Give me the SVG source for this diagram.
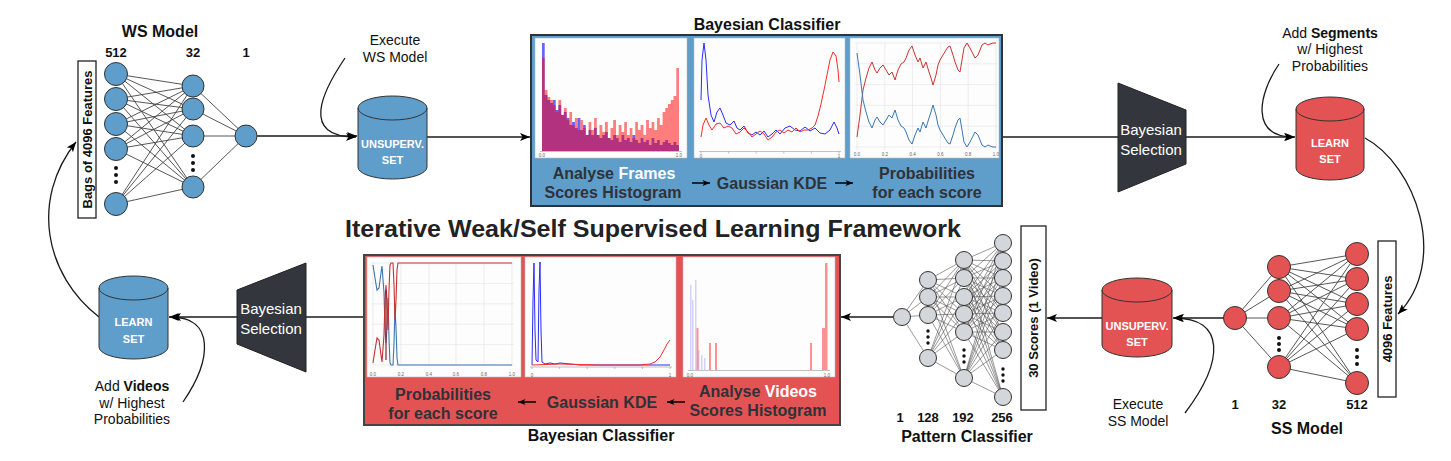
<svg xmlns="http://www.w3.org/2000/svg" width="1451" height="461" viewBox="0 0 1451 461">
<style>
text{font-family:"Liberation Sans",Arial,sans-serif;}
.b{font-weight:bold;}
.lbl{font-size:14px;fill:#111;}
.ttl{font-size:16px;font-weight:bold;fill:#111;}
.num{font-size:13px;font-weight:bold;fill:#111;}
.cyl{font-size:11px;font-weight:bold;fill:#fff;}
.sel{font-size:15px;fill:#fff;}
.pt{font-size:16px;font-weight:bold;fill:#2f3238;}
.tick{font-size:4.5px;fill:#666;}
.conn{stroke:#1a1a1a;stroke-width:1.3;fill:none;}
.syn{stroke:#444;stroke-width:0.9;fill:none;}
.syn2{stroke:#555;stroke-width:0.6;fill:none;}
.nb{fill:#5f9dca;stroke:#333;stroke-width:1;}
.nr{fill:#e45353;stroke:#333;stroke-width:1;}
.ng{fill:#d3d6db;stroke:#333;stroke-width:1;}
.chart{fill:#fdfdfd;stroke:#bbb;stroke-width:0.6;}
.grid{stroke:#e2e2e2;stroke-width:0.6;fill:none;}
.axis{stroke:#999;stroke-width:0.6;fill:none;}
.box{fill:#fff;stroke:#222;stroke-width:1.3;}
</style>
<defs>
<marker id="arr" viewBox="0 0 10 8" refX="10" refY="4" markerWidth="10" markerHeight="8" markerUnits="userSpaceOnUse" orient="auto"><path d="M0,0 L10,4 L0,8 L2.5,4 Z" fill="#000"/></marker>
<marker id="arrS" viewBox="0 0 10 8" refX="10" refY="4" markerWidth="8" markerHeight="6" markerUnits="userSpaceOnUse" orient="auto"><path d="M0,0 L10,4 L0,8 L2.5,4 Z" fill="#000"/></marker>
</defs>
<rect width="1451" height="461" fill="#fff"/>

<text x="653" y="237" class="b" font-size="23" fill="#222" text-anchor="middle" textLength="616" lengthAdjust="spacingAndGlyphs">Iterative Weak/Self Supervised Learning Framework</text>

<g id="connectors">
<line class="conn" x1="257" y1="136" x2="357" y2="136" marker-end="url(#arr)"/>
<line class="conn" x1="427" y1="137" x2="530" y2="137" marker-end="url(#arr)"/>
<line class="conn" x1="1002" y1="137" x2="1118" y2="137"/>
<line class="conn" x1="1186" y1="137" x2="1295" y2="137" marker-end="url(#arr)"/>
<path class="conn" d="M345,58 C322,92 300,137 356,137" marker-end="url(#arr)"/>
<path class="conn" d="M1279,64 C1258,95 1250,137 1294,137" marker-end="url(#arr)"/>
<path class="conn" d="M1365,138 C1415,165 1450,260 1398,314" marker-end="url(#arr)"/>
<line class="conn" x1="1224" y1="318" x2="1173" y2="318" marker-end="url(#arr)"/>
<path class="conn" d="M1185,413 C1225,360 1225,318 1174,318" marker-end="url(#arr)"/>
<line class="conn" x1="1102" y1="318" x2="1047" y2="318" marker-end="url(#arr)"/>
<line class="conn" x1="893" y1="317" x2="841" y2="317" marker-end="url(#arr)"/>
<line class="conn" x1="364" y1="317" x2="306" y2="317"/>
<line class="conn" x1="237" y1="317" x2="169" y2="317" marker-end="url(#arr)"/>
<path class="conn" d="M183,402 C212,360 215,317 171,317" marker-end="url(#arr)"/>
<path class="conn" d="M99,317 C45,275 30,200 76,142" marker-end="url(#arr)"/>
</g>

<g id="ws-model">
<text x="160" y="37" class="ttl" text-anchor="middle">WS Model</text>
<text x="116" y="57" class="num" text-anchor="middle">512</text>
<text x="193" y="57" class="num" text-anchor="middle">32</text>
<text x="246" y="57" class="num" text-anchor="middle">1</text>
<path class="syn" d="M116 74L193 86M116 74L193 109M116 74L193 136M116 74L193 187M116 99L193 86M116 99L193 109M116 99L193 136M116 99L193 187M116 124L193 86M116 124L193 109M116 124L193 136M116 124L193 187M116 149L193 86M116 149L193 109M116 149L193 136M116 149L193 187M116 204L193 86M116 204L193 109M116 204L193 136M116 204L193 187M193 86L246 136M193 109L246 136M193 136L246 136M193 187L246 136"/>
<circle class="nb" cx="116" cy="74" r="11.5"/>
<circle class="nb" cx="116" cy="99" r="11.5"/>
<circle class="nb" cx="116" cy="124" r="11.5"/>
<circle class="nb" cx="116" cy="149" r="11.5"/>
<circle class="nb" cx="116" cy="204" r="11.5"/>
<circle cx="116" cy="168" r="2" fill="#111"/><circle cx="116" cy="175" r="2" fill="#111"/><circle cx="116" cy="182" r="2" fill="#111"/>
<circle class="nb" cx="193" cy="86" r="11"/>
<circle class="nb" cx="193" cy="109" r="11"/>
<circle class="nb" cx="193" cy="136" r="11"/>
<circle class="nb" cx="193" cy="187" r="11"/>
<circle cx="193" cy="156" r="2" fill="#111"/><circle cx="193" cy="163" r="2" fill="#111"/><circle cx="193" cy="170" r="2" fill="#111"/>
<circle class="nb" cx="246" cy="136" r="11"/>
</g>

<g id="bags-features">
<rect class="box" x="78" y="61" width="18" height="157"/>
<text class="num" transform="translate(92,139.5) rotate(-90)" text-anchor="middle">Bags of 4096 Features</text>
</g>

<g id="execute-ws">
<text x="395" y="45" class="lbl" text-anchor="middle">Execute</text>
<text x="395" y="62" class="lbl" text-anchor="middle">WS Model</text>
</g>

<g id="unsuperv-set-top">
<path class="nb" d="M358,108 A34.5,12 0 0 1 427,108 V167 A34.5,12 0 0 1 358,167 Z"/>
<path d="M358,108 A34.5,12 0 0 0 427,108" fill="none" stroke="#333" stroke-width="1"/>
<text x="392.5" y="148" class="cyl" text-anchor="middle">UNSUPERV.</text>
<text x="392.5" y="164" class="cyl" text-anchor="middle">SET</text>
</g>

<g id="bayesian-classifier-top">
<text x="767" y="30" class="ttl" text-anchor="middle">Bayesian Classifier</text>
<rect x="531" y="35" width="471" height="171" fill="#5f9dca" stroke="#2f3338" stroke-width="2"/>
<rect class="chart" x="535" y="38" width="152" height="120"/>
<path d="M542,151 V43 H544.7 V95 H547.5 V100 H550.2 V103 H553 V100 H555.7 V110 H558.4 V105 H561.2 V115 H563.9 V112 H566.7 V118 H569.4 V125 H572.1 V122 H574.9 V128 H577.6 V118 H580.4 V130 H583.1 V125 H585.8 V135 H588.6 V130 H591.3 V135 H594.1 V128 H596.8 V135 H599.5 V138 H602.3 V135 H605 V132 H607.8 V138 H610.5 V140 H613.2 V135 H616 V138 H618.7 V142 H621.5 V135 H624.2 V140 H626.9 V138 H629.7 V142 H632.4 V135 H635.2 V140 H637.9 V143 H640.6 V138 H643.4 V142 H646.1 V140 H648.9 V145 H651.6 V138 H654.3 V143 H657.1 V140 H659.8 V145 H662.6 V142 H665.3 V140 H668 V143 H670.8 V145 H673.5 V142 H676.3 V145 H679 V151 Z" fill="#0000ff" fill-opacity="0.6"/>
<path d="M542,151 V58 H544.7 V90 H547.5 V97 H550.2 V100 H553 V105 H555.7 V112 H558.4 V100 H561.2 V115 H563.9 V108 H566.7 V120 H569.4 V112 H572.1 V125 H574.9 V118 H577.6 V130 H580.4 V120 H583.1 V128 H585.8 V135 H588.6 V122 H591.3 V130 H594.1 V118 H596.8 V135 H599.5 V125 H602.3 V132 H605 V122 H607.8 V138 H610.5 V128 H613.2 V120 H616 V135 H618.7 V125 H621.5 V132 H624.2 V122 H626.9 V135 H629.7 V128 H632.4 V138 H635.2 V122 H637.9 V130 H640.6 V125 H643.4 V135 H646.1 V120 H648.9 V128 H651.6 V122 H654.3 V130 H657.1 V118 H659.8 V125 H662.6 V112 H665.3 V108 H668 V104 H670.8 V100 H673.5 V96 H676.3 V68 H679 V151 Z" fill="#ff0000" fill-opacity="0.5"/>
<line class="axis" x1="540" y1="151.5" x2="682" y2="151.5"/>
<text x="542" y="157" class="tick" text-anchor="middle">0.0</text>
<text x="679" y="157" class="tick" text-anchor="middle">1.0</text>

<rect class="chart" x="694" y="38" width="151" height="120"/>
<line class="axis" x1="699" y1="151.5" x2="841" y2="151.5"/>
<path class="axis" d="M701,151.5v2M728.6,151.5v2M756.2,151.5v2M783.8,151.5v2M811.4,151.5v2M839,151.5v2"/>
<polyline fill="none" stroke="#2a2aff" stroke-width="1" points="701,100 702,60 704,43 706,60 708,95 711,115 714,122 717,112 720,108 723,115 726,123 730,125 734,121 737,128 740,130 744,126 748,133 752,135 756,132 760,135 764,131 768,137 772,134 776,130 780,134 785,128 790,126 795,130 800,131 805,127 810,131 815,128 820,133 825,134 830,130 834,122 837,128 839,134"/>
<polyline fill="none" stroke="#ff2a2a" stroke-width="1" points="701,137 703,125 706,118 709,125 712,130 716,124 720,123 724,128 728,126 732,128 736,134 740,132 744,128 748,132 752,137 756,134 760,131 764,134 768,140 772,137 776,132 780,130 784,133 788,130 792,132 796,128 800,132 804,130 808,130 812,128 815,125 818,116 821,104 824,90 827,75 830,60 833,52 836,56 838,70 839,82"/>
<text x="701" y="158" class="tick" text-anchor="middle">0</text>
<text x="839" y="158" class="tick" text-anchor="middle">1</text>

<rect class="chart" x="850" y="38" width="149" height="120"/>
<path class="grid" d="M857,43V150M884.8,43V150M912.6,43V150M940.4,43V150M968.2,43V150M996,43V150M855,43H998M855,63.8H998M855,84.6H998M855,105.4H998M855,126.2H998M855,147H998"/>
<polyline fill="none" stroke="#cc3333" stroke-width="1" points="857,137 860,115 863,90 866,78 869,68 872,62 875,70 877,73 880,68 883,65 886,70 889,75 892,72 895,80 898,70 901,64 904,62 906,58 909,50 912,46 915,55 918,62 920,58 923,68 926,62 929,72 931,78 933,85 936,75 938,65 940,60 943,55 946,50 948,47 950,46 953,55 955,62 958,70 960,72 962,60 964,48 967,43 970,48 972,52 975,58 978,55 980,50 982,45 985,43 988,45 990,44 993,43 996,43"/>
<polyline fill="none" stroke="#3b76b0" stroke-width="1" points="857,53 860,75 863,100 866,112 869,122 872,128 875,120 877,117 880,122 883,125 886,120 889,115 892,118 895,110 898,120 901,126 904,128 906,132 909,140 912,144 915,135 918,128 920,132 923,122 926,128 929,118 931,112 933,105 936,115 938,125 940,130 943,135 946,140 948,143 950,144 953,135 955,128 958,120 960,118 962,130 964,142 967,147 970,142 972,138 975,132 978,135 980,140 982,145 985,147 988,145 990,146 993,147 996,147"/>
<text x="857" y="156" class="tick" text-anchor="middle">0.0</text>
<text x="884.8" y="156" class="tick" text-anchor="middle">0.2</text>
<text x="912.6" y="156" class="tick" text-anchor="middle">0.4</text>
<text x="940.4" y="156" class="tick" text-anchor="middle">0.6</text>
<text x="968.2" y="156" class="tick" text-anchor="middle">0.8</text>
<text x="996" y="156" class="tick" text-anchor="middle">1.0</text>

<text x="614" y="179" class="pt" text-anchor="middle">Analyse <tspan fill="#fff">Frames</tspan></text>
<text x="613" y="198" class="pt" text-anchor="middle">Scores Histogram</text>
<line x1="692" y1="183" x2="710" y2="183" stroke="#000" stroke-width="1.5" marker-end="url(#arrS)"/>
<text x="772" y="189" class="pt" text-anchor="middle">Gaussian KDE</text>
<line x1="835" y1="183" x2="853" y2="183" stroke="#000" stroke-width="1.5" marker-end="url(#arrS)"/>
<text x="927" y="179" class="pt" text-anchor="middle">Probabilities</text>
<text x="927" y="198" class="pt" text-anchor="middle">for each score</text>
</g>

<g id="bayesian-selection-top">
<polygon points="1118,83 1186,110 1186,164 1118,192" fill="#33363d" stroke="#222" stroke-width="1"/>
<text x="1151" y="135" class="sel" text-anchor="middle">Bayesian</text>
<text x="1151" y="155" class="sel" text-anchor="middle">Selection</text>
</g>

<g id="add-segments">
<text x="1330" y="38" class="lbl" text-anchor="middle">Add <tspan font-weight="bold">Segments</tspan></text>
<text x="1330" y="54" class="lbl" text-anchor="middle">w/ Highest</text>
<text x="1330" y="71" class="lbl" text-anchor="middle">Probabilities</text>
</g>

<g id="learn-set-red">
<path class="nr" d="M1296,109 A34,12 0 0 1 1364,109 V168 A34,12 0 0 1 1296,168 Z"/>
<path d="M1296,109 A34,12 0 0 0 1364,109" fill="none" stroke="#333" stroke-width="1"/>
<text x="1330" y="147" class="cyl" text-anchor="middle">LEARN</text>
<text x="1330" y="163" class="cyl" text-anchor="middle">SET</text>
</g>

<g id="features-4096">
<rect class="box" x="1378" y="241" width="18" height="156"/>
<text class="num" transform="translate(1392,319) rotate(-90)" text-anchor="middle">4096 Features</text>
</g>

<g id="ss-model">
<path class="syn" d="M1279 267L1357 254M1279 267L1357 279M1279 267L1357 304M1279 267L1357 329M1279 267L1357 383M1279 291L1357 254M1279 291L1357 279M1279 291L1357 304M1279 291L1357 329M1279 291L1357 383M1279 318L1357 254M1279 318L1357 279M1279 318L1357 304M1279 318L1357 329M1279 318L1357 383M1279 367L1357 254M1279 367L1357 279M1279 367L1357 304M1279 367L1357 329M1279 367L1357 383M1235 318L1279 267M1235 318L1279 291M1235 318L1279 318M1235 318L1279 367"/>
<circle class="nr" cx="1357" cy="254" r="11.5"/>
<circle class="nr" cx="1357" cy="279" r="11.5"/>
<circle class="nr" cx="1357" cy="304" r="11.5"/>
<circle class="nr" cx="1357" cy="329" r="11.5"/>
<circle class="nr" cx="1357" cy="383" r="11.5"/>
<circle cx="1357" cy="350" r="2" fill="#111"/><circle cx="1357" cy="357" r="2" fill="#111"/><circle cx="1357" cy="364" r="2" fill="#111"/>
<circle class="nr" cx="1279" cy="267" r="11.5"/>
<circle class="nr" cx="1279" cy="291" r="11.5"/>
<circle class="nr" cx="1279" cy="318" r="11.5"/>
<circle class="nr" cx="1279" cy="367" r="11.5"/>
<circle cx="1279" cy="338" r="2" fill="#111"/><circle cx="1279" cy="344" r="2" fill="#111"/><circle cx="1279" cy="350" r="2" fill="#111"/>
<circle class="nr" cx="1235" cy="318" r="11.5"/>
<text x="1235" y="409" class="num" text-anchor="middle">1</text>
<text x="1279" y="409" class="num" text-anchor="middle">32</text>
<text x="1357" y="409" class="num" text-anchor="middle">512</text>
<text x="1307" y="434" class="ttl" text-anchor="middle">SS Model</text>
</g>

<g id="unsuperv-set-red">
<path class="nr" d="M1102,290 A35,12 0 0 1 1172,290 V345 A35,12 0 0 1 1102,345 Z"/>
<path d="M1102,290 A35,12 0 0 0 1172,290" fill="none" stroke="#333" stroke-width="1"/>
<text x="1137" y="330" class="cyl" text-anchor="middle">UNSUPERV.</text>
<text x="1137" y="346" class="cyl" text-anchor="middle">SET</text>
</g>

<g id="execute-ss">
<text x="1138" y="409" class="lbl" text-anchor="middle">Execute</text>
<text x="1138" y="426" class="lbl" text-anchor="middle">SS Model</text>
</g>

<g id="scores-30">
<rect class="box" x="1021" y="226" width="25" height="184"/>
<text class="num" transform="translate(1038,318) rotate(-90)" text-anchor="middle">30 Scores (1 Video)</text>
</g>

<g id="pattern-classifier">
<path class="syn2" d="M902 317L928 280M902 317L928 297M902 317L928 315M902 317L928 358
M928 280L964 260M928 280L964 278M928 280L964 297M928 280L964 314M928 280L964 332M928 280L964 378
M928 297L964 260M928 297L964 278M928 297L964 297M928 297L964 314M928 297L964 332M928 297L964 378
M928 315L964 260M928 315L964 278M928 315L964 297M928 315L964 314M928 315L964 332M928 315L964 378
M928 358L964 260M928 358L964 278M928 358L964 297M928 358L964 314M928 358L964 332M928 358L964 378
M964 260L1003 243M964 260L1003 261M964 260L1003 278M964 260L1003 296M964 260L1003 313M964 260L1003 332M964 260L1003 350M964 260L1003 397
M964 278L1003 243M964 278L1003 261M964 278L1003 278M964 278L1003 296M964 278L1003 313M964 278L1003 332M964 278L1003 350M964 278L1003 397
M964 297L1003 243M964 297L1003 261M964 297L1003 278M964 297L1003 296M964 297L1003 313M964 297L1003 332M964 297L1003 350M964 297L1003 397
M964 314L1003 243M964 314L1003 261M964 314L1003 278M964 314L1003 296M964 314L1003 313M964 314L1003 332M964 314L1003 350M964 314L1003 397
M964 332L1003 243M964 332L1003 261M964 332L1003 278M964 332L1003 296M964 332L1003 313M964 332L1003 332M964 332L1003 350M964 332L1003 397
M964 378L1003 243M964 378L1003 261M964 378L1003 278M964 378L1003 296M964 378L1003 313M964 378L1003 332M964 378L1003 350M964 378L1003 397"/>
<circle class="ng" cx="902" cy="317" r="8.5"/>
<circle class="ng" cx="928" cy="280" r="8.5"/>
<circle class="ng" cx="928" cy="297" r="8.5"/>
<circle class="ng" cx="928" cy="315" r="8.5"/>
<circle class="ng" cx="928" cy="358" r="8.5"/>
<circle cx="928" cy="331" r="1.7" fill="#111"/><circle cx="928" cy="337" r="1.7" fill="#111"/><circle cx="928" cy="343" r="1.7" fill="#111"/>
<circle class="ng" cx="964" cy="260" r="8.5"/>
<circle class="ng" cx="964" cy="278" r="8.5"/>
<circle class="ng" cx="964" cy="297" r="8.5"/>
<circle class="ng" cx="964" cy="314" r="8.5"/>
<circle class="ng" cx="964" cy="332" r="8.5"/>
<circle class="ng" cx="964" cy="378" r="8.5"/>
<circle cx="964" cy="350" r="1.7" fill="#111"/><circle cx="964" cy="356" r="1.7" fill="#111"/><circle cx="964" cy="362" r="1.7" fill="#111"/>
<circle class="ng" cx="1003" cy="243" r="8.5"/>
<circle class="ng" cx="1003" cy="261" r="8.5"/>
<circle class="ng" cx="1003" cy="278" r="8.5"/>
<circle class="ng" cx="1003" cy="296" r="8.5"/>
<circle class="ng" cx="1003" cy="313" r="8.5"/>
<circle class="ng" cx="1003" cy="332" r="8.5"/>
<circle class="ng" cx="1003" cy="350" r="8.5"/>
<circle class="ng" cx="1003" cy="397" r="8.5"/>
<circle cx="1003" cy="369" r="1.7" fill="#111"/><circle cx="1003" cy="375" r="1.7" fill="#111"/><circle cx="1003" cy="381" r="1.7" fill="#111"/>
<text x="900" y="422" class="num" text-anchor="middle">1</text>
<text x="928" y="422" class="num" text-anchor="middle">128</text>
<text x="963" y="422" class="num" text-anchor="middle">192</text>
<text x="1002" y="422" class="num" text-anchor="middle">256</text>
<text x="967" y="442" class="ttl" text-anchor="middle">Pattern Classifier</text>
</g>

<g id="bayesian-classifier-bottom">
<rect x="364" y="255" width="476" height="170" fill="#e45353" stroke="#444" stroke-width="2"/>
<rect class="chart" x="367" y="257" width="154" height="120"/>
<path class="grid" d="M373,263V365M401,263V365M429,263V365M456,263V365M484,263V365M512,263V365M371,263H514M371,283.4H514M371,303.8H514M371,324.2H514M371,344.6H514M371,365H514"/>
<polyline fill="none" stroke="#3b76b0" stroke-width="1.1" points="373,265 375,278 377,290 379,288 381,273 382,266 384,293 385,328 386,343 387,328 388,298 389,338 390,363 391,365 393,365 394,343 395,308 396,328 397,358 398,365 400,365 512,365"/>
<polyline fill="none" stroke="#c83030" stroke-width="1.1" points="373,363 375,350 377,338 379,340 381,355 382,362 384,335 385,300 386,285 387,300 388,330 389,290 390,265 391,263 393,263 394,285 395,320 396,300 397,270 398,263 400,263 512,263"/>
<line x1="386" y1="290" x2="386" y2="360" stroke="#8a1f2a" stroke-width="1.2"/>
<text x="373" y="376" class="tick" text-anchor="middle">0.0</text>
<text x="401" y="376" class="tick" text-anchor="middle">0.2</text>
<text x="429" y="376" class="tick" text-anchor="middle">0.4</text>
<text x="456" y="376" class="tick" text-anchor="middle">0.6</text>
<text x="484" y="376" class="tick" text-anchor="middle">0.8</text>
<text x="512" y="376" class="tick" text-anchor="middle">1.0</text>

<rect class="chart" x="525" y="257" width="151" height="120"/>
<line class="axis" x1="530" y1="367" x2="672" y2="367"/>
<path class="axis" d="M532,367v2M559.6,367v2M587.2,367v2M614.8,367v2M642.4,367v2M670,367v2"/>
<polyline fill="none" stroke="#2a2aff" stroke-width="1" points="532,365 533,300 534,263 535,330 536,360 538,362 539,290 540,262 541,330 542,362 545,364 550,363 555,364 560,363 570,364 580,365 670,365"/>
<polyline fill="none" stroke="#ff2a2a" stroke-width="1" points="532,365 560,364 600,365 640,365 650,364 655,362 660,357 664,350 667,344 670,340"/>
<text x="532" y="377" class="tick" text-anchor="middle">0</text>
<text x="670" y="377" class="tick" text-anchor="middle">1</text>

<rect class="chart" x="683" y="257" width="152" height="120"/>
<line class="axis" x1="688" y1="370.5" x2="830" y2="370.5"/>
<g fill="#8080ff" fill-opacity="0.35">
<rect x="690" y="285" width="1.5" height="85"/>
<rect x="692" y="300" width="1.5" height="70"/>
<rect x="695" y="280" width="1.5" height="90"/>
<rect x="698" y="350" width="1.5" height="20"/>
<rect x="701" y="355" width="1.5" height="15"/>
<rect x="704" y="358" width="1.5" height="12"/>
</g>
<g fill="#ff4a4a" fill-opacity="0.6">
<rect x="696.5" y="328" width="2" height="42"/>
<rect x="709" y="343" width="2" height="27"/>
<rect x="715" y="343" width="2" height="27"/>
<rect x="810" y="343" width="2" height="27"/>
<rect x="822" y="328" width="3" height="42"/>
<rect x="825" y="263" width="2.5" height="107"/>
</g>
<text x="690" y="377" class="tick" text-anchor="middle">0.0</text>
<text x="827" y="377" class="tick" text-anchor="middle">1.0</text>

<text x="443" y="400" class="pt" text-anchor="middle">Probabilities</text>
<text x="443" y="419" class="pt" text-anchor="middle">for each score</text>
<line x1="536" y1="402" x2="518" y2="402" stroke="#000" stroke-width="1.5" marker-end="url(#arrS)"/>
<text x="602" y="408" class="pt" text-anchor="middle">Gaussian KDE</text>
<line x1="685" y1="402" x2="667" y2="402" stroke="#000" stroke-width="1.5" marker-end="url(#arrS)"/>
<text x="758" y="397" class="pt" text-anchor="middle">Analyse <tspan fill="#fff">Videos</tspan></text>
<text x="758" y="416" class="pt" text-anchor="middle">Scores Histogram</text>
<text x="601" y="441" class="ttl" text-anchor="middle">Bayesian Classifier</text>
</g>

<g id="bayesian-selection-bottom">
<polygon points="237,290 306,263 306,372 237,344" fill="#33363d" stroke="#222" stroke-width="1"/>
<text x="271" y="314" class="sel" text-anchor="middle">Bayesian</text>
<text x="271" y="334" class="sel" text-anchor="middle">Selection</text>
</g>

<g id="learn-set-blue">
<path class="nb" d="M99,288 A34.5,12 0 0 1 168,288 V347 A34.5,12 0 0 1 99,347 Z"/>
<path d="M99,288 A34.5,12 0 0 0 168,288" fill="none" stroke="#333" stroke-width="1"/>
<text x="133.5" y="326" class="cyl" text-anchor="middle">LEARN</text>
<text x="133.5" y="343" class="cyl" text-anchor="middle">SET</text>
</g>

<g id="add-videos">
<text x="132" y="391" class="lbl" text-anchor="middle">Add <tspan font-weight="bold">Videos</tspan></text>
<text x="132" y="408" class="lbl" text-anchor="middle">w/ Highest</text>
<text x="132" y="424" class="lbl" text-anchor="middle">Probabilities</text>
</g>
</svg>
